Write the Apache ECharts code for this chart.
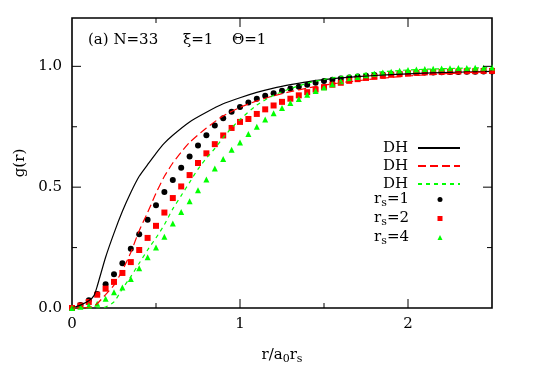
<!DOCTYPE html>
<html>
<head>
<meta charset="utf-8">
<script src="https://cdn.jsdelivr.net/npm/echarts@6/dist/echarts.min.js"></script>
<style>
  html, body { margin: 0; padding: 0; background: #fff; }
  #main { width: 545px; height: 382px; }
</style>
</head>
<body>
<div id="main"></div>
<script>
// grid of r/a0rs for the simulation points
const xPts = [0, 0.05, 0.1, 0.15, 0.2, 0.25, 0.3, 0.35, 0.4, 0.45, 0.5, 0.55, 0.6, 0.65, 0.7, 0.75,
  0.8, 0.85, 0.9, 0.95, 1.0, 1.05, 1.1, 1.15, 1.2, 1.25, 1.3, 1.35, 1.4, 1.45, 1.5, 1.55, 1.6,
  1.65, 1.7, 1.75, 1.8, 1.85, 1.9, 1.95, 2.0, 2.05, 2.1, 2.15, 2.2, 2.25, 2.3, 2.35, 2.4, 2.45, 2.5];

const rs1 = [0, 0.012, 0.032, 0.058, 0.098, 0.14, 0.185, 0.245, 0.305, 0.365, 0.425, 0.48, 0.53, 0.58,
  0.627, 0.672, 0.715, 0.755, 0.785, 0.812, 0.832, 0.85, 0.866, 0.878, 0.889, 0.899, 0.908, 0.916,
  0.924, 0.932, 0.939, 0.945, 0.95, 0.954, 0.958, 0.961, 0.964, 0.966, 0.968, 0.97, 0.972, 0.973,
  0.974, 0.975, 0.976, 0.977, 0.977, 0.978, 0.978, 0.979, 0.979];

const rs2 = [0, 0.01, 0.025, 0.055, 0.08, 0.108, 0.145, 0.19, 0.24, 0.29, 0.34, 0.395, 0.455, 0.503,
  0.55, 0.6, 0.64, 0.678, 0.714, 0.745, 0.77, 0.782, 0.803, 0.822, 0.838, 0.853, 0.866, 0.88, 0.893,
  0.904, 0.914, 0.924, 0.932, 0.94, 0.947, 0.952, 0.957, 0.961, 0.965, 0.968, 0.971, 0.973, 0.975,
  0.976, 0.977, 0.978, 0.979, 0.98, 0.98, 0.981, 0.981];

const rs4 = [0, 0.005, 0.01, 0.018, 0.038, 0.065, 0.085, 0.12, 0.165, 0.21, 0.25, 0.295, 0.35, 0.397,
  0.442, 0.487, 0.532, 0.577, 0.617, 0.655, 0.685, 0.72, 0.75, 0.78, 0.806, 0.828, 0.848, 0.865,
  0.882, 0.898, 0.912, 0.926, 0.938, 0.948, 0.956, 0.963, 0.969, 0.974, 0.978, 0.982, 0.985, 0.987,
  0.989, 0.99, 0.991, 0.992, 0.993, 0.993, 0.994, 0.994, 0.995];

// Debye-Hückel curves
const xDH1 = [0, 0.05, 0.1, 0.13, 0.15, 0.2, 0.25, 0.3, 0.35, 0.4, 0.45, 0.5, 0.55, 0.6, 0.7, 0.8, 0.9,
  1.0, 1.1, 1.2, 1.3, 1.4, 1.5, 1.6, 1.8, 2.0, 2.2, 2.5];
const dh1 = [0, 0.012, 0.03, 0.05, 0.09, 0.21, 0.31, 0.4, 0.478, 0.545, 0.593, 0.64, 0.682, 0.715,
  0.77, 0.81, 0.845, 0.87, 0.892, 0.91, 0.924, 0.936, 0.945, 0.952, 0.962, 0.969, 0.974, 0.979];

const xDH2 = [0, 0.05, 0.1, 0.13, 0.15, 0.2, 0.25, 0.3, 0.35, 0.4, 0.45, 0.5, 0.55, 0.6, 0.65, 0.7,
  0.8, 0.9, 1.0, 1.1, 1.2, 1.3, 1.4, 1.5, 1.6, 1.8, 2.0, 2.2, 2.5];
const dh2 = [0, 0, 0.002, 0.008, 0.018, 0.055, 0.095, 0.155, 0.23, 0.32, 0.395, 0.475, 0.545, 0.6,
  0.645, 0.685, 0.745, 0.795, 0.83, 0.857, 0.878, 0.895, 0.91, 0.922, 0.932, 0.948, 0.96, 0.969, 0.978];

const xDH4 = [0, 0.1, 0.15, 0.2, 0.25, 0.3, 0.35, 0.4, 0.45, 0.5, 0.55, 0.6, 0.65, 0.7, 0.75, 0.8,
  0.85, 0.9, 0.95, 1.0, 1.1, 1.2, 1.3, 1.4, 1.5, 1.6, 1.8, 2.0, 2.2, 2.5];
const dh4 = [0, 0, 0, 0.004, 0.025, 0.08, 0.13, 0.185, 0.24, 0.29, 0.345, 0.41, 0.465, 0.52, 0.575,
  0.62, 0.66, 0.705, 0.745, 0.78, 0.84, 0.88, 0.908, 0.93, 0.946, 0.958, 0.975, 0.985, 0.99, 0.995];

// tick positions (labelled ones are major, the rest minor)
const xTicks = [0, 1, 2];
const xMinorTicks = [0.5, 1.5];
const yTicks = [0, 0.5, 1.0];
const yMinorTicks = [0.25, 0.75];

const X_MAX = 2.5, Y_MAX = 1.2;
const pair = (xs, ys) => xs.map((x, i) => [x, ys[i]]);

const FONT = 'DejaVu Serif';
const GREEN = '#00ff00';

// plot box in px, tick lengths converted to axis units so they run through the scales
const box = { left: 72, right: 53, top: 18, bottom: 74 };
const plotW = 545 - box.left - box.right;
const plotH = 382 - box.top - box.bottom;
const gap = ['-', '-'];
function tickSegments() {
  const out = [];
  const xt = (v, px) => {
    const d = px / plotH * Y_MAX;
    out.push([v, 0], [v, d], gap, [v, Y_MAX], [v, Y_MAX - d], gap);
  };
  const yt = (v, px) => {
    const d = px / plotW * X_MAX;
    out.push([0, v], [d, v], gap, [X_MAX, v], [X_MAX - d, v], gap);
  };
  xTicks.filter(v => v > 0).forEach(v => xt(v, 9));
  xMinorTicks.forEach(v => xt(v, 5));
  yTicks.filter(v => v > 0).forEach(v => yt(v, 9));
  yMinorTicks.forEach(v => yt(v, 5));
  return out;
}

var chart = echarts.init(document.getElementById('main'));

var option = {
  animation: false,
  backgroundColor: '#fff',
  grid: Object.assign({ show: true, borderColor: '#000', borderWidth: 1.6, backgroundColor: 'transparent' }, box),
  xAxis: {
    type: 'value', min: 0, max: X_MAX, interval: 1,
    axisLine: { show: false },
    axisTick: { show: false },
    splitLine: { show: false },
    axisLabel: {
      fontFamily: FONT, fontSize: 15, color: '#000', margin: 9,
      formatter: v => xTicks.includes(v) ? String(v) : ''
    },
    name: '{a|r/a}{sub|0}{a|r}{sub|s}',
    nameLocation: 'middle',
    nameGap: 37,
    nameTextStyle: {
      rich: {
        a: { fontFamily: FONT, fontSize: 15, color: '#000' },
        sub: { fontFamily: FONT, fontSize: 11, color: '#000', padding: [9, 0, 0, 0] }
      }
    }
  },
  yAxis: {
    type: 'value', min: 0, max: Y_MAX, interval: 0.5,
    axisLine: { show: false },
    axisTick: { show: false },
    splitLine: { show: false },
    axisLabel: {
      fontFamily: FONT, fontSize: 15, color: '#000', margin: 10,
      formatter: v => yTicks.includes(v) ? v.toFixed(1) : ''
    },
    name: 'g(r)',
    nameLocation: 'middle',
    nameGap: 38,
    nameRotate: 90,
    nameTextStyle: { fontFamily: FONT, fontSize: 15, color: '#000' }
  },
  legend: [
    {
      orient: 'vertical', align: 'right', right: 84, top: 140, padding: 0,
      itemWidth: 42, itemHeight: 8, itemGap: 2,
      data: ['DH_1', 'DH_2', 'DH_4'],
      formatter: n => n.split('_')[0],
      itemStyle: { opacity: 0 },
      textStyle: { fontFamily: FONT, fontSize: 15, color: '#000', lineHeight: 16, padding: [0, 5, 0, 0] }
    },
    {
      orient: 'vertical', align: 'right', right: 102.5, top: 192, padding: 0,
      itemWidth: 5, itemHeight: 5, itemGap: 2,
      data: ['rs=1', 'rs=2', 'rs=4'],
      formatter: n => '{r|r}{s|s}{r|' + n.slice(2) + '}',
      textStyle: {
        fontFamily: FONT, fontSize: 15, color: '#000', padding: [0, 23.5, 0, 0],
        rich: {
          r: { fontFamily: FONT, fontSize: 15, color: '#000', lineHeight: 16 },
          s: { fontFamily: FONT, fontSize: 11, color: '#000', padding: [8, 0, 0, 0] }
        }
      }
    }
  ],
  graphic: [
    { type: 'text', left: 88, top: 33, style: { text: '(a) N=33', font: '15px "DejaVu Serif"', fill: '#000' } },
    { type: 'text', left: 183, top: 33, style: { text: 'ξ=1', font: '15px "DejaVu Serif"', fill: '#000' } },
    { type: 'text', left: 232, top: 33, style: { text: 'Θ=1', font: '15px "DejaVu Serif"', fill: '#000' } }
  ],
  series: [
    {
      name: 'ticks', type: 'line', data: tickSegments(), symbol: 'none', connectNulls: false,
      silent: true, lineStyle: { color: '#000', width: 1 }, z: 10
    },
    {
      name: 'DH_1', type: 'line', data: pair(xDH1, dh1), symbol: 'none', smooth: 0.2,
      lineStyle: { color: '#000', width: 1.2 }, itemStyle: { color: '#000' }
    },
    {
      name: 'DH_2', type: 'line', data: pair(xDH2, dh2), symbol: 'none', smooth: 0.2,
      lineStyle: { color: '#ff0000', width: 1.2, type: [8, 4] }, itemStyle: { color: '#ff0000' }
    },
    {
      name: 'DH_4', type: 'line', data: pair(xDH4, dh4), symbol: 'none', smooth: 0.2,
      lineStyle: { color: GREEN, width: 1.2, type: [4, 4] }, itemStyle: { color: GREEN }
    },
    {
      name: 'rs=1', type: 'scatter', data: pair(xPts, rs1), symbol: 'circle', symbolSize: 6,
      itemStyle: { color: '#000', opacity: 1 }
    },
    {
      name: 'rs=2', type: 'scatter', data: pair(xPts, rs2), symbol: 'rect', symbolSize: 6,
      itemStyle: { color: '#ff0000', opacity: 1 }
    },
    {
      name: 'rs=4', type: 'scatter', data: pair(xPts, rs4), symbol: 'triangle', symbolSize: 6,
      itemStyle: { color: GREEN, opacity: 1 }
    }
  ]
};

option && chart.setOption(option);
</script>
</body>
</html>
